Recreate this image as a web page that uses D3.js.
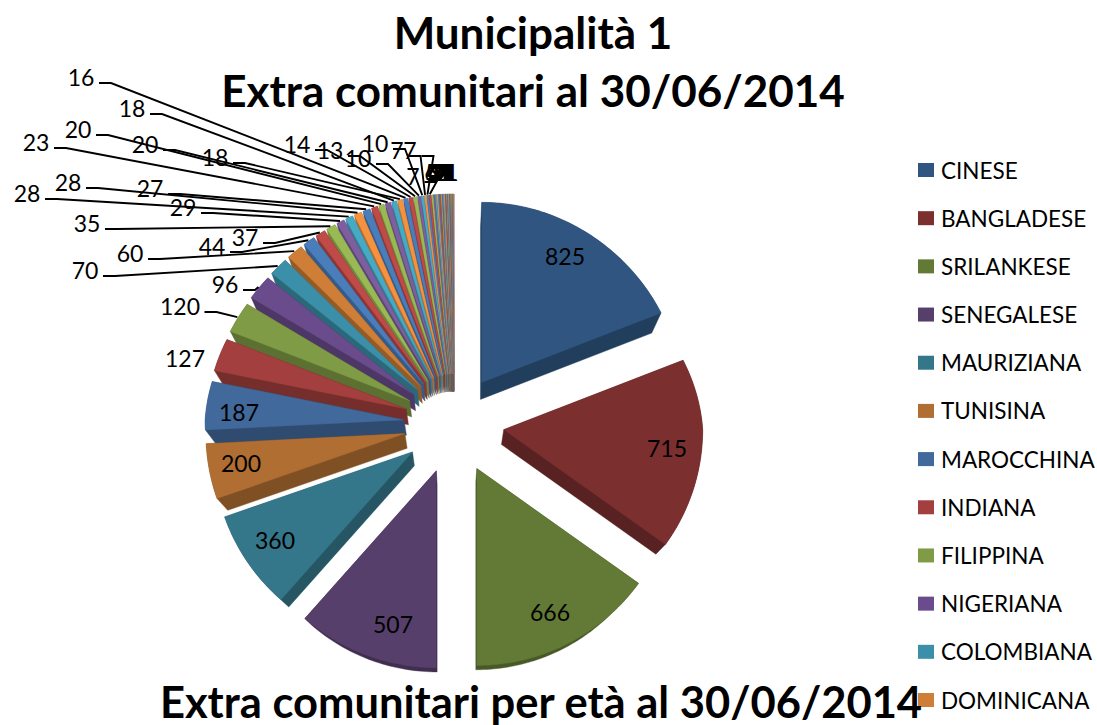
<!DOCTYPE html>
<html>
<head>
<meta charset="utf-8">
<script src="https://cdn.jsdelivr.net/npm/d3@7"></script>
<style>
  html, body { margin: 0; background: #fff; overflow: hidden; }
  text { font-family: Lato, "Open Sans", sans-serif; fill: #000; }
  .title { font-weight: 700; font-size: 44px; text-anchor: middle; }
  .value { font-size: 23px; text-anchor: middle; dominant-baseline: central; }
  .legend { font-size: 22.5px; dominant-baseline: central; }
</style>
</head>
<body>
<div id="chart"></div>
<script>
// Municipalità 1 - exploded pseudo-3D pie, as exported from a spreadsheet
const WIDTH = 1097;
const HEIGHT = 725;

const legendNames = [
  "CINESE", "BANGLADESE", "SRILANKESE", "SENEGALESE", "MAURIZIANA", "TUNISINA",
  "MAROCCHINA", "INDIANA", "FILIPPINA", "NIGERIANA", "COLOMBIANA", "DOMINICANA"
];

const mainValues = [
  825, 715, 666, 507, 360, 200, 187, 127, 120, 96, 70, 60, 44, 37, 35, 29,
  28, 28, 27, 23, 20, 20, 18, 18, 16, 14, 13, 10, 10, 7, 7, 7
];

// the tail at 12 o'clock: labels overprint, so these are estimates
const tailValues = [
  6, 5, 5, 4, 4, 4, 3, 3, 3, 3,
  2, 2, 2, 2, 2, 2, 2, 2,
  1, 1, 1, 1, 1, 1, 1, 1, 1, 1, 1, 1
];

const shades = [
  "#2f5580", "#7b2f2f", "#627a35", "#573f6b", "#34768a", "#b06e33",
  "#41699b", "#a33f3e", "#7f9b45", "#6a4c8d", "#3b8fa8", "#ce7e36"
];
const tailPalette = ["#4a7ebb", "#be4b48", "#98b954", "#7d5fa0", "#46aac4", "#f59240"];

const values = mainValues.concat(tailValues);
const colorOf = (i) => (i < shades.length ? shades[i] : tailPalette[i % 6]);

// label layout: inside the seven biggest slices, then outside from the 127 slice upward
const innerSpots = [
  [565, 256], [667, 448], [550, 612], [393, 624], [275, 540], [241, 463], [239, 412]
];
const labelSpots = [
  [185, 358], [180, 306], [225, 284], [85, 270], [130, 253], [212, 246], [245, 237],
  [87, 223], [183, 207], [27, 193], [68, 182], [150, 188], [36, 142], [78, 129],
  [145, 144], [132, 108], [215, 157], [81, 77], [297, 144], [330, 150], [358, 158],
  [375, 143], [397, 150], [410, 150], [413, 176]
];

// pie geometry: the far half is foreshortened, walls run to a vanishing point below
const cx = 454, cy = 424, explode = 50;
const rx = 199, ryFar = 180, ryNear = 197, farNarrow = 0.06;
const vanish = { x: 454, y: 760, k: 0.045 };

const svg = d3.select("#chart").append("svg")
  .attr("width", WIDTH)
  .attr("height", HEIGHT)
  .style("display", "block");

const project = (a, r, mid) => {
  const c = Math.cos(a);
  return [
    cx + explode * Math.sin(mid) + r * rx * Math.sin(a) * (1 - farNarrow * Math.max(c, 0)),
    cy - explode * Math.cos(mid) - r * c * (c > 0 ? ryFar : ryNear)
  ];
};
const extrude = ([x, y]) => [
  x + (vanish.x - x) * vanish.k,
  y + (vanish.y - y) * vanish.k
];

const pie = d3.pie().sort(null).value((d) => d.value);
const slices = pie(values.map((value, i) => ({ value, i })));
slices.forEach((s) => {
  s.mid = (s.startAngle + s.endAngle) / 2;
  const steps = Math.max(2, Math.ceil((s.endAngle - s.startAngle) / 0.02));
  const arc = d3.range(steps + 1).map((k) =>
    project(s.startAngle + (s.endAngle - s.startAngle) * k / steps, 1, s.mid));
  s.outline = [project(s.mid, 0, s.mid), ...arc];
});

const line = d3.line();
const closed = (pts) => line(pts) + "Z";

// far slices first so nearer walls and tops cover them
const drawOrder = slices.slice().sort((a, b) =>
  d3.ascending(project(a.mid, 0.6, a.mid)[1], project(b.mid, 0.6, b.mid)[1]));

const gPie = svg.append("g");
drawOrder.forEach((s) => {
  const c = colorOf(s.data.i);
  const wall = d3.color(c).darker(0.9).formatHex();
  const pts = s.outline;
  const hull = d3.polygonHull(pts.concat(pts.map(extrude)));
  gPie.append("path").attr("d", closed(hull)).attr("fill", wall).attr("stroke", wall).attr("stroke-width", 0.4);
  gPie.append("path").attr("d", closed(pts)).attr("fill", c).attr("stroke", c).attr("stroke-width", 0.3);
});

const gLabels = svg.append("g");
innerSpots.forEach(([x, y], k) => {
  gLabels.append("text").attr("class", "value").attr("x", x).attr("y", y).text(slices[k].value);
});

// outside labels with leader lines (127 sits next to its slice, no leader)
const gLeaders = svg.append("g").attr("fill", "none").attr("stroke", "#000").attr("stroke-width", 1.9);
labelSpots.forEach(([x, y], k) => {
  const s = slices[innerSpots.length + k];
  const label = String(s.value);
  gLabels.append("text").attr("class", "value").attr("x", x).attr("y", y).text(label);
  if (k === 0) return;
  const halfW = label.length * 6.5;
  const stubY = y + 6;
  const end = project(s.mid, 1.005, s.mid);
  gLeaders.append("path").attr("d", line([
    [x + halfW + 5, stubY],
    [x + halfW + 17, stubY],
    end
  ]));
});

// tail labels overprint one another into a black blob above the pie
const tailStart = innerSpots.length + labelSpots.length;
const tailX = d3.scaleLinear().domain([tailStart, values.length - 1]).range([431, 452]);
slices.slice(tailStart).forEach((s) => {
  gLabels.append("text").attr("class", "value")
    .attr("x", tailX(s.data.i)).attr("y", 172).text(s.value);
});

// titles
[["Municipalità 1", 32], ["Extra comunitari al 30/06/2014", 90]].forEach(([t, y]) => {
  svg.append("text").attr("class", "title").attr("x", 533).attr("y", y)
    .attr("dominant-baseline", "central").text(t);
});

// legend runs off the bottom of the picture
const legendY = d3.scalePoint().domain(legendNames).range([170, 700]);
const gLegend = svg.append("g");
legendNames.forEach((name, i) => {
  gLegend.append("rect")
    .attr("x", 918).attr("y", legendY(name) - 7)
    .attr("width", 16).attr("height", 14)
    .attr("fill", shades[i]);
  gLegend.append("text").attr("class", "legend")
    .attr("x", 941).attr("y", legendY(name)).text(name);
});

svg.append("text").attr("class", "title").attr("x", 541).attr("y", 701)
  .style("font-size", "43.5px")
  .attr("dominant-baseline", "central").text("Extra comunitari per età al 30/06/2014");
</script>
</body>
</html>
